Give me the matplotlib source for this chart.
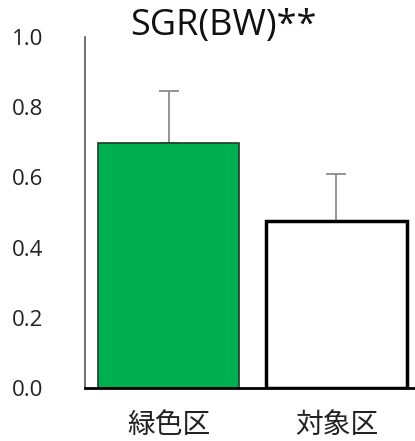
import numpy as np
import matplotlib.pyplot as plt

# SGR (body weight) by plot, mean and SD
groups = ['緑色区', '対象区']
means = [0.697, 0.477]
sds = [0.149, 0.132]
face = ['#00B050', 'white']
edges = ['#1f3b2a', 'black']
edge_w = [1.2, 2.5]

yticks = [0.0, 0.2, 0.4, 0.6, 0.8, 1.0]

fig = plt.figure(figsize=(4.15, 4.41), dpi=100)
ax = fig.add_axes([0.205, 0.12, 0.795, 0.796])

x = np.arange(len(groups))
for i in range(len(groups)):
    ax.bar(x[i], means[i], width=0.84, color=face[i], edgecolor=edges[i],
           linewidth=edge_w[i], zorder=2)
    ax.errorbar(x[i], means[i], yerr=[[0], [sds[i]]], fmt='none',
                ecolor='#8c8c8c', elinewidth=1.3, capsize=7, capthick=1.3,
                zorder=1)

ax.set_xlim(-0.5, 1.47)
ax.set_ylim(0, 1.0)
ax.set_yticks(yticks)
ax.set_yticklabels(['%.1f' % v for v in yticks], fontsize=16,
                   family=['Open Sans', 'DejaVu Sans'], color='#222222')
ax.set_xticks(x)
ax.set_xticklabels(groups, fontsize=20, family=['Noto Sans CJK JP', 'DejaVu Sans'],
                   color='#222222')
ax.tick_params(axis='both', length=0)
ax.tick_params(axis='y', pad=30)
ax.tick_params(axis='x', pad=16)

for s in ['top', 'right']:
    ax.spines[s].set_visible(False)
ax.spines['left'].set_color('#555555')
ax.spines['left'].set_linewidth(1.2)
ax.spines['bottom'].set_color('black')
ax.spines['bottom'].set_linewidth(2.0)

fig.text(0.538, 0.94, 'SGR(BW)**', ha='center', va='center', fontsize=26,
         family=['Open Sans', 'DejaVu Sans'], color='#111111')

fig.savefig('out.png', dpi=100)
